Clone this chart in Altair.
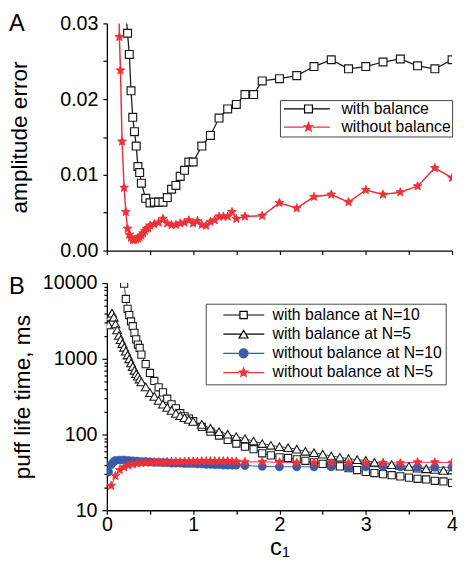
import altair as alt
import pandas as pd

FONT = "Liberation Sans"
RED = "#ec3138"
BLUE = "#3a5ba9"

# ---------------- axis ticks ----------------
x_ticks = [0, 0.5, 1, 1.5, 2, 2.5, 3, 3.5, 4]
a_y_ticks = [0, 0.005, 0.01, 0.015, 0.02, 0.025, 0.03]
b_y_ticks = [10, 20, 30, 40, 50, 60, 70, 80, 90,
             100, 200, 300, 400, 500, 600, 700, 800, 900,
             1000, 2000, 3000, 4000, 5000, 6000, 7000, 8000, 9000, 10000]

a_names = ["with balance", "without balance"]
b_names = ["with balance at N=10", "with balance at N=5",
           "without balance at N=10", "without balance at N=5"]
panel_letters = ["A", "B"]

# ---------------- panel A data ----------------
a_bal_c = [0.20, 0.24, 0.26, 0.28, 0.30, 0.32, 0.34, 0.36, 0.38, 0.40,
           0.45, 0.50, 0.55, 0.60, 0.65, 0.70, 0.75, 0.80, 0.85, 0.90, 0.95,
           1.0, 1.1, 1.2, 1.3, 1.4, 1.5, 1.6, 1.7, 1.8,
           2.0, 2.2, 2.4, 2.6, 2.8, 3.0, 3.2, 3.4, 3.6, 3.8, 4.0]
a_bal_v = [0.0340, 0.0287, 0.0259, 0.0211, 0.0176, 0.0157, 0.0138, 0.0111, 0.0103, 0.0089,
           0.0069, 0.0063, 0.0064, 0.0064, 0.0064, 0.0070, 0.0081, 0.0086, 0.0098, 0.0106, 0.0117,
           0.0117, 0.0138, 0.0152, 0.0175, 0.0187, 0.0193, 0.0206, 0.0206, 0.0224,
           0.0227, 0.0231, 0.0243, 0.0252, 0.0240, 0.0243, 0.0249, 0.0253, 0.0244, 0.0240, 0.0252]

a_nob_c = [0.12, 0.145, 0.158, 0.176, 0.20, 0.22, 0.24, 0.26, 0.28, 0.30,
           0.32, 0.34, 0.36, 0.38, 0.40, 0.42, 0.44, 0.46, 0.48, 0.50,
           0.55, 0.60, 0.65, 0.70, 0.75, 0.80, 0.85, 0.90, 0.95, 1.00,
           1.05, 1.10, 1.15, 1.20, 1.25, 1.30, 1.35, 1.40, 1.45, 1.50,
           1.60, 1.80,
           2.0, 2.2, 2.4, 2.6, 2.8, 3.0, 3.2, 3.4, 3.6, 3.8, 4.0]
a_nob_v = [0.0500, 0.0282, 0.0238, 0.0144, 0.0083, 0.0051, 0.0029, 0.0021, 0.0017, 0.0014,
           0.0014, 0.0015, 0.0016, 0.0018, 0.0020, 0.0023, 0.0026, 0.0029, 0.0030, 0.0033,
           0.0035, 0.0037, 0.0042, 0.0036, 0.0034, 0.0034, 0.0036, 0.0037, 0.0040, 0.0036,
           0.0039, 0.0034, 0.0033, 0.0038, 0.0040, 0.0045, 0.0045, 0.0045, 0.0051, 0.0042,
           0.0045, 0.0046,
           0.0063, 0.0056, 0.0071, 0.0074, 0.0064, 0.0080, 0.0074, 0.0077, 0.0085, 0.0109, 0.0096]

# ---------------- panel B data ----------------
b_sq_c = [0.18, 0.20, 0.22, 0.24, 0.26, 0.28, 0.30, 0.32, 0.34, 0.36, 0.38, 0.40,
          0.45, 0.50, 0.55, 0.60, 0.65, 0.70, 0.75, 0.80, 0.85, 0.90, 0.95,
          1.0, 1.1, 1.2, 1.3, 1.4, 1.5, 1.6, 1.7, 1.8, 1.9,
          2.0, 2.1, 2.2, 2.3, 2.4, 2.5, 2.6, 2.7, 2.8, 2.9,
          3.0, 3.1, 3.2, 3.3, 3.4, 3.5, 3.6, 3.7, 3.8, 3.9, 4.0]
b_sq_v = [20000, 9800, 6170, 4570, 3780, 3110, 2690, 2200, 1810, 1540, 1390, 1135,
          850, 650, 510, 420, 360, 297, 250, 222, 191, 174, 162,
          150, 126, 109, 97, 85, 76, 69, 64, 56.5, 53,
          50, 49, 47, 45, 43, 41, 39.5, 38, 36, 34,
          32, 31, 30, 29, 28, 27, 26, 25.5, 24.5, 24, 23]

b_tri_c = [0.02, 0.04, 0.06, 0.08, 0.10, 0.12, 0.14, 0.16, 0.18, 0.20,
           0.22, 0.24, 0.26, 0.28, 0.30, 0.32, 0.34, 0.36, 0.38, 0.40,
           0.45, 0.50, 0.55, 0.60, 0.65, 0.70, 0.75, 0.80, 0.85, 0.90, 0.95,
           1.0, 1.1, 1.2, 1.3, 1.4, 1.5, 1.6, 1.7, 1.8, 1.9,
           2.0, 2.1, 2.2, 2.3, 2.4, 2.5, 2.6, 2.7, 2.8, 2.9,
           3.0, 3.1, 3.2, 3.3, 3.4, 3.5, 3.6, 3.7, 3.8, 3.9, 4.0]
b_tri_v = [2800, 3630, 4000, 3530, 2880, 2410, 2030, 1790, 1590, 1420,
           1260, 1120, 1000, 880, 790, 705, 635, 590, 540, 495,
           425, 357, 318, 282, 252, 228, 208, 190, 177, 167, 158,
           149, 136, 121, 109, 101, 94, 88, 82, 76, 72,
           69, 67, 64, 60, 57.5, 55, 52, 50, 48, 46.5,
           45.5, 43, 42, 40, 39, 38, 36, 35.3, 34.6, 33.6, 34]

b_cir_c = [0.02, 0.05, 0.08, 0.10,
           0.15, 0.20, 0.25, 0.30, 0.35, 0.40, 0.45, 0.50, 0.55, 0.60,
           0.65, 0.70, 0.75, 0.80, 0.85, 0.90, 0.95, 1.00, 1.05, 1.10,
           1.15, 1.20, 1.25, 1.30, 1.35, 1.40, 1.45, 1.50,
           1.6, 1.8, 2.0, 2.2, 2.4, 2.6, 2.8, 3.0, 3.2, 3.4, 3.6, 3.8, 4.0]
b_cir_v = [32, 40, 44, 45.5,
           46, 46, 45.5, 45, 44.5, 44, 44, 43.5, 43, 43,
           42.5, 42.5, 42, 42, 42, 41.5, 41.5, 41.5, 41, 41,
           40.5, 40.5, 40, 40, 39.5, 39.5, 39.5, 39.5,
           39, 38, 37.5, 37.5, 37.5, 37.5, 37, 37.5, 37.5, 37.5, 37, 37, 37]

b_star_c = [0.05, 0.10, 0.15, 0.20, 0.25, 0.30, 0.35, 0.40, 0.45, 0.50,
            0.55, 0.60, 0.65, 0.70, 0.75, 0.80, 0.85, 0.90, 0.95, 1.00,
            1.05, 1.10, 1.15, 1.20, 1.25, 1.30, 1.35, 1.40, 1.45, 1.50,
            1.6, 1.8, 2.0, 2.2, 2.4, 2.6, 2.8, 3.0, 3.2, 3.4, 3.6, 3.8, 4.0]
b_star_v = [21, 28.5, 34, 37, 39, 40.5, 41.5, 42, 42.5, 43,
            43, 43, 43, 43.5, 43.5, 43.5, 43.5, 44, 44, 44,
            44, 44.5, 44.5, 44.5, 44.5, 44.5, 44.5, 44.5, 44, 44,
            43.5, 43.5, 43, 42.5, 42.5, 42, 42, 42, 42, 42, 43, 43, 42.5]

# ---------------- symbol paths ----------------
STAR = ("M0,-1L0.2645,-0.364L0.9511,-0.309L0.428,0.139L0.5878,0.809L0,0.45"
        "L-0.5878,0.809L-0.428,0.139L-0.9511,-0.309L-0.2645,-0.364Z")
STAR_L = ("M0,-0.94L0.2486,-0.342L0.894,-0.2905L0.402,0.1307L0.5525,0.7605L0,0.423"
          "L-0.5525,0.7605L-0.402,0.1307L-0.894,-0.2905L-0.2486,-0.342Z")
SQ_A_LEG = "M-5,0H-0.8M0.8,0H4.33M-0.8,-0.8H0.8V0.8H-0.8Z"
STAR_A_LEG = "M-5,0H-0.9M0.9,0H4.33" + STAR_L
SQ_B_LEG = "M-4.12,0H-0.74M0.74,0H4.2M-0.74,-0.74H0.74V0.74H-0.74Z"
TRI_B_LEG = "M-4.12,0H-0.45M0.45,0H4.2M0,-0.78L0.9,0.78H-0.9Z"
CIR_B_LEG = "M-4.12,0H-0.9M0.9,0H4.2M-0.9,0A0.9,0.9,0,1,1,0.9,0A0.9,0.9,0,1,1,-0.9,0Z"
STAR_B_LEG = "M-4.12,0H-0.9M0.9,0H4.2" + STAR_L


def frame(cs, vs, name):
    return pd.DataFrame({"c": cs, "v": vs, "s": name})


dA1 = frame(a_bal_c, a_bal_v, a_names[0])
dA2 = frame(a_nob_c, a_nob_v, a_names[1])
dB1 = frame(b_sq_c, b_sq_v, b_names[0])
dB2 = frame(b_tri_c, b_tri_v, b_names[1])
dB3 = frame(b_cir_c, b_cir_v, b_names[2])
dB4 = frame(b_star_c, b_star_v, b_names[3])

# ---------------- encodings ----------------
xA = alt.X("c:Q", scale=alt.Scale(domain=[0, 4], nice=False),
           axis=alt.Axis(values=x_ticks, labels=False, title=None, tickSize=4))
yA = alt.Y("v:Q", scale=alt.Scale(domain=[0, 0.03], nice=False, zero=False),
           axis=alt.Axis(values=a_y_ticks,
                         labelExpr="round(datum.value*1000) % 10 == 0 ? format(datum.value, '.2f') : ''",
                         labelOverlap=False, title="amplitude error", titlePadding=29,
                         tickSize=4, labelPadding=5))

xB = alt.X("c:Q", scale=alt.Scale(domain=[0, 4], nice=False),
           axis=alt.Axis(values=x_ticks,
                         labelExpr="datum.value % 1 == 0 ? format(datum.value, 'd') : ''",
                         labelOverlap=False, labelFlush=False, title="c\u2081",
                         titleFontSize=24, titlePadding=1, tickSize=4, labelPadding=1))
MAJ = "indexof([10,100,1000,10000], datum.value) >= 0"
yB = alt.Y("v:Q", scale=alt.Scale(type="log", domain=[10, 10000], nice=False),
           axis=alt.Axis(values=b_y_ticks,
                         labelExpr=MAJ + " ? format(datum.value, 'd') : ''",
                         labelOverlap=False, title="puff life time, ms", titlePadding=8,
                         tickSize={"condition": {"test": MAJ, "value": 5}, "value": 3},
                         labelPadding=5))


def line(df, x, y, color, width):
    return alt.Chart(df).mark_line(color=color, strokeWidth=width, clip=True).encode(x=x, y=y)


def pts(df, x, y, shape, size, fill, stroke, sw=1.2):
    return alt.Chart(df).mark_point(shape=shape, size=size, filled=True, fill=fill,
                                    stroke=stroke, strokeWidth=sw, opacity=1,
                                    clip=True).encode(x=x, y=y)


def letter(name, ypos):
    return alt.Chart(pd.DataFrame({"t": [name]})).mark_text(
        align="left", baseline="alphabetic", fontSize=24, font=FONT, color="black"
    ).encode(text="t:N", x=alt.value(-99.5), y=alt.value(ypos))


def legend(x, y, pad, soff, loff, rowpad, tail):
    return alt.Legend(title=None, orient="none", legendX=x, legendY=y, padding=pad,
                      symbolOffset=soff, labelOffset=loff, rowPadding=rowpad,
                      labelFont=FONT, labelFontSize=16, labelColor="black", labelLimit=400,
                      symbolSize=100, symbolStrokeWidth=1.2, symbolOpacity=1,
                      strokeColor="#444444", fillColor="white",
                      labelExpr="datum.label + '" + "\u00a0" * tail + "'")


legA = legend(176, 78, 1, 20, 25.5, 2.5, 3)
legB = legend(100.5, 21, 3.5, 27, 21.5, 3.5, 7)

allA = pd.concat([dA1, dA2])
leg_layer_A = alt.Chart(allA).mark_point(filled=True, opacity=0, size=100, strokeWidth=1.2,
                                         clip=True).encode(
    x=xA, y=yA,
    shape=alt.Shape("s:N", scale=alt.Scale(domain=a_names, range=[SQ_A_LEG, STAR_A_LEG]), legend=legA),
    fill=alt.Fill("s:N", scale=alt.Scale(domain=a_names, range=["white", RED]), legend=legA),
    stroke=alt.Stroke("s:N", scale=alt.Scale(domain=a_names, range=["black", RED]), legend=legA),
)

allB = pd.concat([dB1, dB2, dB3, dB4])
leg_layer_B = alt.Chart(allB).mark_point(filled=True, opacity=0, size=100, strokeWidth=1.2,
                                         clip=True).encode(
    x=xB, y=yB,
    shape=alt.Shape("s:N", scale=alt.Scale(domain=b_names,
                                           range=[SQ_B_LEG, TRI_B_LEG, CIR_B_LEG, STAR_B_LEG]), legend=legB),
    fill=alt.Fill("s:N", scale=alt.Scale(domain=b_names, range=["white", "white", BLUE, RED]), legend=legB),
    stroke=alt.Stroke("s:N", scale=alt.Scale(domain=b_names, range=["black", "black", BLUE, RED]), legend=legB),
)

panelA = alt.layer(
    line(dA1, xA, yA, "#1a1a1a", 1.3),
    line(dA2, xA, yA, RED, 1.5),
    pts(dA1, xA, yA, "square", 64, "white", "#1a1a1a"),
    pts(dA2, xA, yA, STAR, 88, RED, RED, 0.8),
    leg_layer_A,
    letter(panel_letters[0], 8),
).properties(width=351, height=231)

panelB = alt.layer(
    line(dB1, xB, yB, "#1a1a1a", 0.8),
    line(dB2, xB, yB, "#1a1a1a", 0.8),
    line(dB3, xB, yB, BLUE, 1.0),
    line(dB4, xB, yB, RED, 1.0),
    pts(dB1, xB, yB, "square", 53, "white", "#1a1a1a", 1.1),
    pts(dB2, xB, yB, "triangle-up", 81, "white", "#1a1a1a", 1.1),
    pts(dB3, xB, yB, "circle", 71, BLUE, BLUE, 0.5),
    pts(dB4, xB, yB, STAR, 88, RED, RED, 0.8),
    leg_layer_B,
    letter(panel_letters[1], 11),
).properties(width=351, height=231)

chart = alt.vconcat(panelA, panelB, spacing=33, bounds="flush").resolve_scale(
    shape="independent", fill="independent", stroke="independent"
).resolve_legend(
    shape="independent", fill="independent", stroke="independent"
).properties(
    padding={"left": 0.5, "top": 0, "right": 0, "bottom": 0}
).configure_view(stroke=None).configure_axis(
    labelFont=FONT, titleFont=FONT, labelFontSize=20, titleFontSize=23,
    titleFontWeight="normal", labelColor="black", titleColor="black",
    domainColor="black", tickColor="black", domainWidth=1.3, tickWidth=1.2, grid=False,
)

chart.save("out.html", embed_options={"renderer": "svg", "actions": False})
